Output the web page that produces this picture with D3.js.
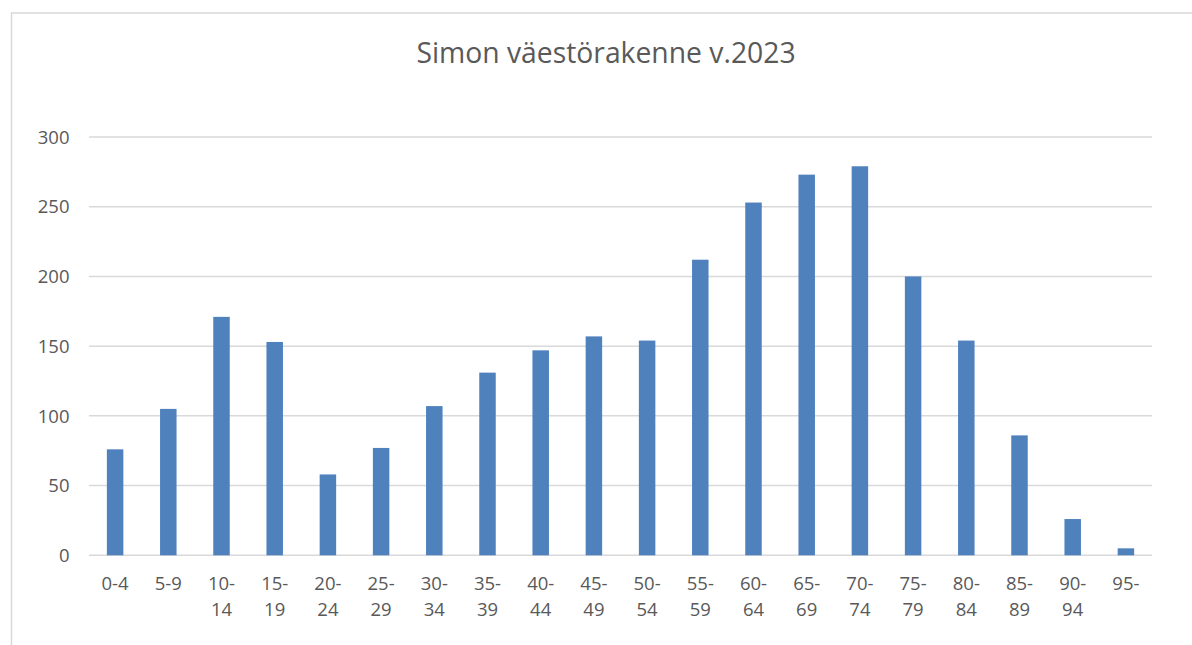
<!DOCTYPE html>
<html><head><meta charset="utf-8">
<script src="https://cdn.jsdelivr.net/npm/d3@7"></script>
<style>body{margin:0;background:#fff}svg{display:block}</style>
</head><body>
<svg id="c" width="1192" height="645"></svg>
<script>
const categories = ["0-4","5-9","10-14","15-19","20-24","25-29","30-34","35-39","40-44","45-49","50-54","55-59","60-64","65-69","70-74","75-79","80-84","85-89","90-94","95-"];
const values = [76,105,171,153,58,77,107,131,147,157,154,212,253,273,279,200,154,86,26,5];
const yTicks = [0,50,100,150,200,250,300];
const title = "Simon väestörakenne v.2023";

const svg = d3.select("#c");
const font = "'Open Sans', 'Noto Sans', sans-serif";
svg.append("rect").attr("x",11.5).attr("y",13).attr("width",1300).attr("height",800)
  .attr("fill","#fff").attr("stroke","#d9d9d9").attr("stroke-width",1.5);

const x = d3.scaleBand().domain(categories).range([88.5,1152.5]).paddingInner(0.69).paddingOuter(0.345);
const y = d3.scaleLinear().domain([0,300]).range([555.3,137]);

const g = svg.append("g");
g.selectAll("line.grid").data(yTicks).join("line").attr("class","grid")
  .attr("x1",89).attr("x2",1152).attr("y1",d=>y(d)).attr("y2",d=>y(d))
  .attr("stroke","#d9d9d9").attr("stroke-width",1.5);

g.selectAll("text.yl").data(yTicks).join("text").attr("class","yl")
  .attr("x",69.5).attr("y",d=>y(d)).attr("dy","0.36em").attr("text-anchor","end")
  .attr("font-family",font).attr("font-size",18.5).attr("fill","#595959").text(d=>d);

g.selectAll("rect.bar").data(values).join("rect").attr("class","bar")
  .attr("x",(d,i)=>x(categories[i])).attr("width",x.bandwidth())
  .attr("y",d=>y(d)).attr("height",d=>y(0)-y(d)).attr("fill","#4f81bd");

const xl = g.selectAll("text.xl").data(categories).join("text").attr("class","xl")
  .attr("x",d=>x(d)+x.bandwidth()/2).attr("y",589.5).attr("text-anchor","middle")
  .attr("font-family",font).attr("font-size",18.5).attr("fill","#595959");
xl.each(function(d){
  const t = d3.select(this);
  const parts = d.split("-");
  if (parts[0].length===1) { t.text(d); return; }
  t.append("tspan").attr("x",x(d)+x.bandwidth()/2).text(parts[0]+"-");
  if (parts[1]) t.append("tspan").attr("x",x(d)+x.bandwidth()/2).attr("dy",26.6).text(parts[1]);
});

svg.append("text").attr("x",606).attr("y",63).attr("text-anchor","middle")
  .attr("font-family",font).attr("font-size",28.3).attr("fill","#595959").text(title);
</script>
</body></html>
